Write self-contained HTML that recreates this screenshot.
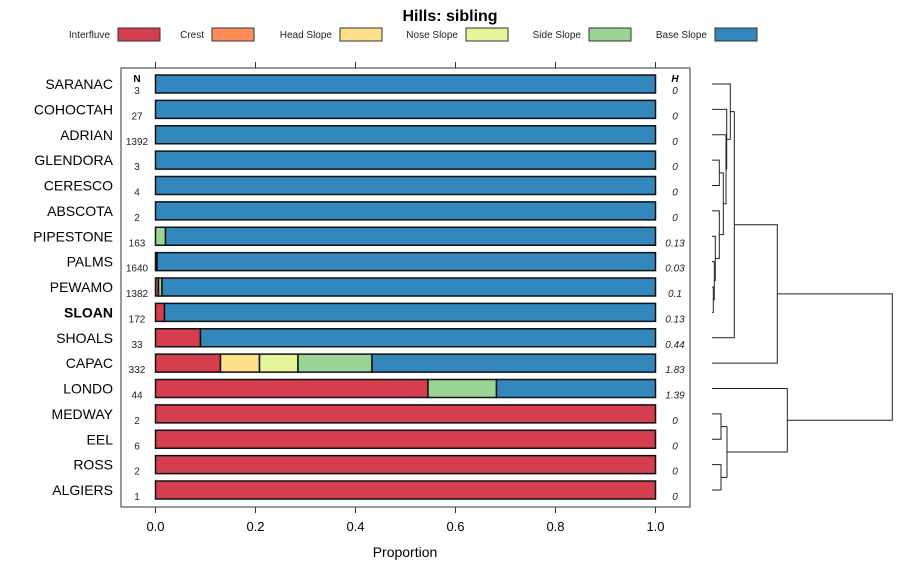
<!DOCTYPE html>
<html><head><meta charset="utf-8"><style>body{margin:0;background:#fff}svg{font-family:"Liberation Sans",sans-serif}</style></head>
<body>
<svg id="c" width="900" height="580" xmlns="http://www.w3.org/2000/svg"></svg>
<script>
const series = ["Interfluve","Crest","Head Slope","Nose Slope","Side Slope","Base Slope"];
const colors = ["#D53E4F","#FC8D59","#FEE08B","#E6F598","#99D594","#3288BD"];
const soils = ["SARANAC","COHOCTAH","ADRIAN","GLENDORA","CERESCO","ABSCOTA","PIPESTONE","PALMS","PEWAMO","SLOAN","SHOALS","CAPAC","LONDO","MEDWAY","EEL","ROSS","ALGIERS"];
const nVals = [3,27,1392,3,4,2,163,1640,1382,172,33,332,44,2,6,2,1];
const hVals = ["0","0","0","0","0","0","0.13","0.03","0.1","0.13","0.44","1.83","1.39","0","0","0","0"];
const interfluve = [0,0,0,0,0,0,0,0.003,0.006,0.018,0.09,0.13,0.545,1,1,1,1];
const crest =      [0,0,0,0,0,0,0,0,0,0,0,0,0,0,0,0,0];
const headSlope =  [0,0,0,0,0,0,0,0,0,0,0,0.078,0,0,0,0,0];
const noseSlope =  [0,0,0,0,0,0,0,0,0,0,0,0.077,0,0,0,0,0];
const sideSlope =  [0,0,0,0,0,0,0.02,0,0.007,0,0,0.148,0.137,0,0,0,0];
const baseSlope =  [1,1,1,1,1,1,0.98,0.997,0.987,0.982,0.91,0.567,0.318,0,0,0,0];
const xTicks = [0,0.2,0.4,0.6,0.8,1.0];
const xTickLabels = ["0.0","0.2","0.4","0.6","0.8","1.0"];
// dendrogram merges: [left, right, height]; leaves 0..16, merges 17+
const merges = [[8,9,1.3],[7,17,2.3],[6,18,3.3],[5,19,7.3],[3,4,7.3],[21,20,11.3],[2,22,14],[1,23,14.7],[0,24,18.3],[25,10,22.3],[26,11,65.3],[13,14,9],[15,16,9],[28,29,15],[12,30,75.3],[27,31,180.3]];

const svg = document.getElementById('c');
const NS = "http://www.w3.org/2000/svg";
function mk(t, a, p) { const e = document.createElementNS(NS, t); for (const k in a) e.setAttribute(k, a[k]); (p || svg).appendChild(e); return e; }
const xs = v => 155.5 + v * 500;
const ys = i => 84 + i * 25.375;
const dx = h => 712 + h;

let t = mk('text', {x: 450, y: 21, 'text-anchor': 'middle', 'font-size': 16, 'font-weight': 'bold'}); t.textContent = "Hills: sibling";


// legend
const legX = [118, 212, 340, 466, 589, 715];
series.forEach((s, i) => {
  const g = mk('g', {});
  
  
  const tx = mk('text', {x: legX[i] - 8, y: 38, 'text-anchor': 'end', 'font-size': 10, fill: '#222'}, g); tx.textContent = s;
  mk('rect', {x: legX[i], y: 28, width: 42, height: 13, fill: colors[i], stroke: '#333', 'stroke-width': 1}, g);
});
// panel
const panel = mk('rect', {x: 121, y: 68, width: 569, height: 439, fill: 'none', stroke: '#333', 'stroke-width': 1});


xTicks.forEach((v, i) => {
  mk('line', {x1: xs(v), x2: xs(v), y1: 62, y2: 68, stroke: '#333'});
  mk('line', {x1: xs(v), x2: xs(v), y1: 507, y2: 513, stroke: '#333'});
  const l = mk('text', {x: xs(v), y: 531, 'text-anchor': 'middle', 'font-size': 13});
  l.textContent = xTickLabels[i];
  
  
});
t = mk('text', {x: 405, y: 557, 'text-anchor': 'middle', 'font-size': 14}); t.textContent = "Proportion";


t = mk('text', {x: 137, y: 82, 'text-anchor': 'middle', 'font-size': 10, 'font-weight': 'bold'}); t.textContent = "N";
t = mk('text', {x: 675, y: 82, 'text-anchor': 'middle', 'font-size': 10, 'font-weight': 'bold', 'font-style': 'italic'}); t.textContent = "H";
const data = [interfluve, crest, headSlope, noseSlope, sideSlope, baseSlope];
soils.forEach((s, i) => {
  const y = ys(i);
  const lab = mk('text', {x: 113, y: y + 5, 'text-anchor': 'end', 'font-size': 14, 'font-weight': s === 'SLOAN' ? 'bold' : 'normal'});
  lab.textContent = s;
  
  
  const n = mk('text', {x: 137, y: y + 10, 'text-anchor': 'middle', 'font-size': 10, fill: '#222'}); n.textContent = nVals[i];
  
  
  const h = mk('text', {x: 675, y: y + 10, 'text-anchor': 'middle', 'font-size': 10, 'font-style': 'italic', fill: '#222'}); h.textContent = hVals[i];
  
  
  let cum = 0;
  data.forEach((arr, k) => {
    const v = arr[i];
    if (v > 0) {
      const r = mk('rect', {x: xs(cum), y: y - 9, width: xs(cum + v) - xs(cum), height: 18, fill: colors[k], stroke: '#111', 'stroke-width': 1.5});
      
      
    }
    cum += v;
  });
});
// dendrogram
const pos = soils.map((s, i) => ({y: ys(i), h: 0}));
merges.forEach(m => {
  const a = pos[m[0]], b = pos[m[1]], hh = m[2];
  const p = mk('path', {d: `M${dx(a.h)},${a.y}H${dx(hh)}V${b.y}H${dx(b.h)}`, fill: 'none', stroke: '#222', 'stroke-width': 1});
  
  
  pos.push({y: (a.y + b.y) / 2, h: hh});
});
</script>
</body></html>
